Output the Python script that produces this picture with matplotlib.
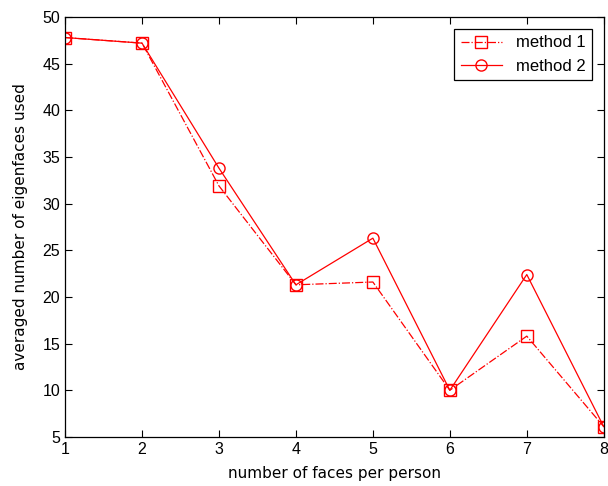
import matplotlib
matplotlib.use("Agg")
import matplotlib.pyplot as plt

x = [1, 2, 3, 4, 5, 6, 7, 8]
method1 = [47.8, 47.2, 31.9, 21.3, 21.6, 10.0, 15.8, 6.1]
method2 = [47.8, 47.2, 33.8, 21.3, 26.3, 10.0, 22.4, 6.1]
labels = ["method 1", "method 2"]

plt.rcParams['font.family'] = ['Liberation Sans', 'DejaVu Sans']

fig = plt.figure(figsize=(6.08, 4.86), dpi=100)
ax = fig.add_axes([0.107, 0.101, 0.886, 0.864])

ax.plot(x, method1, color='red', linestyle='-.', linewidth=0.9, marker='s',
        markersize=8, markerfacecolor='none', markeredgecolor='red', label=labels[0])
ax.plot(x, method2, color='red', linestyle='-', linewidth=0.9, marker='o',
        markersize=8, markerfacecolor='none', markeredgecolor='red', label=labels[1])

ax.set_xlim(1, 8)
ax.set_ylim(5, 50)
ax.set_xticks(range(1, 9))
ax.set_yticks(range(5, 51, 5))
ax.tick_params(direction='in', top=True, right=True, labelsize=11.5, length=5, width=0.8)
for s in ax.spines.values():
    s.set_linewidth(0.9)

ax.set_xlabel("number of faces per person", fontsize=11, family='DejaVu Sans', labelpad=7)
ax.set_ylabel("averaged number of eigenfaces used", fontsize=11, family='DejaVu Sans', labelpad=10)

leg = ax.legend(loc='upper right', fontsize=12, fancybox=False, edgecolor='black',
                framealpha=1, handlelength=2.5, borderaxespad=0.7)
leg.get_frame().set_linewidth(0.9)

fig.savefig("out.png", dpi=100)
